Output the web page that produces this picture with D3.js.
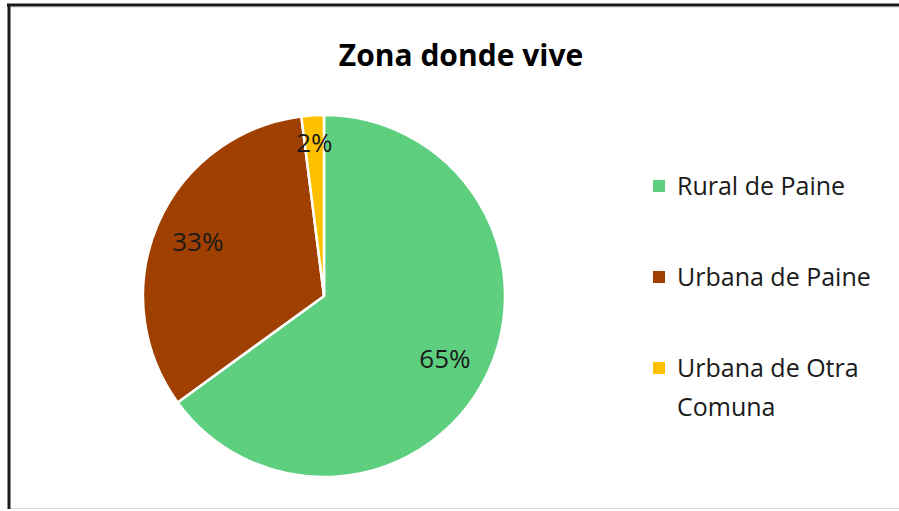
<!DOCTYPE html>
<html>
<head>
<meta charset="utf-8">
<script src="https://cdn.jsdelivr.net/npm/d3@7"></script>
<style>
  html, body { margin: 0; background: #fff; overflow: hidden; }
  svg { display: block; }
  text { font-family: "Open Sans", "Noto Sans", sans-serif; }
</style>
</head>
<body>
<div id="chart"></div>
<script>
// data
const categories = ["Rural de Paine", "Urbana de Paine", "Urbana de Otra Comuna"];
const values = [65, 33, 2];
const labels = ["65%", "33%", "2%"];
const colors = ["#5ECF7F", "#A04000", "#FFC000"];

const width = 899, height = 511;
const cx = 324, cy = 296, r = 181;

const svg = d3.select("#chart")
  .append("svg")
    .attr("width", width)
    .attr("height", height);

// frame of the chart area (right edge is cut off)
svg.append("line")
  .attr("x1", 9).attr("x2", width).attr("y1", 508.5).attr("y2", 508.5)
  .attr("stroke", "#d9d9d9").attr("stroke-width", 1);
svg.append("line")
  .attr("x1", 11).attr("x2", width).attr("y1", 7.5).attr("y2", 7.5)
  .attr("stroke", "#e6e6e6").attr("stroke-width", 1);
svg.append("line")
  .attr("x1", 7).attr("x2", width).attr("y1", 5).attr("y2", 5)
  .attr("stroke", "#1a1a1a").attr("stroke-width", 3);
svg.append("line")
  .attr("x1", 9).attr("x2", 9).attr("y1", 4).attr("y2", 509)
  .attr("stroke", "#1a1a1a").attr("stroke-width", 3);

svg.append("text")
  .attr("x", 461).attr("y", 66)
  .attr("text-anchor", "middle")
  .style("font-size", "30px")
  .style("font-weight", "bold")
  .attr("fill", "#000")
  .text("Zona donde vive");

const pie = d3.pie().sort(null).value(d => d);
const arcs = pie(values);
const arc = d3.arc().innerRadius(0).outerRadius(r);

const g = svg.append("g").attr("transform", `translate(${cx},${cy})`);

g.selectAll("path")
  .data(arcs)
  .join("path")
    .attr("d", arc)
    .attr("fill", (d, i) => colors[i])
    .attr("stroke", "#fff")
    .attr("stroke-width", 2.5)
    .attr("stroke-linejoin", "round");

// percent labels, placed along each slice's middle angle
const labelRadius = [0.75, 0.76, 0.85];
g.selectAll("text.pct")
  .data(arcs)
  .join("text")
    .attr("class", "pct")
    .attr("text-anchor", "middle")
    .style("font-size", "26px")
    .attr("fill", "#1a1a1a")
    .attr("transform", (d, i) => {
      const rr = r * labelRadius[i];
      const p = d3.arc().innerRadius(rr).outerRadius(rr).centroid(d);
      return `translate(${p[0]},${p[1] + 10})`;
    })
    .text((d, i) => labels[i]);

// legend
const legendY = d3.scalePoint().domain(categories).range([186, 368]);
const item = svg.append("g").selectAll("g")
  .data(categories)
  .join("g")
    .attr("transform", d => `translate(653,${legendY(d)})`);

item.append("rect")
  .attr("x", 0).attr("y", -6)
  .attr("width", 12).attr("height", 12)
  .attr("fill", (d, i) => colors[i]);

item.append("text")
  .attr("x", 24).attr("y", 9)
  .style("font-size", "25px")
  .attr("fill", "#1a1a1a")
  .each(function(d) {
    const t = d3.select(this);
    const words = d === "Urbana de Otra Comuna" ? ["Urbana de Otra", "Comuna"] : [d];
    words.forEach((w, k) => {
      t.append("tspan").attr("x", 24).attr("dy", k ? 39 : 0).text(w);
    });
  });
</script>
</body>
</html>
